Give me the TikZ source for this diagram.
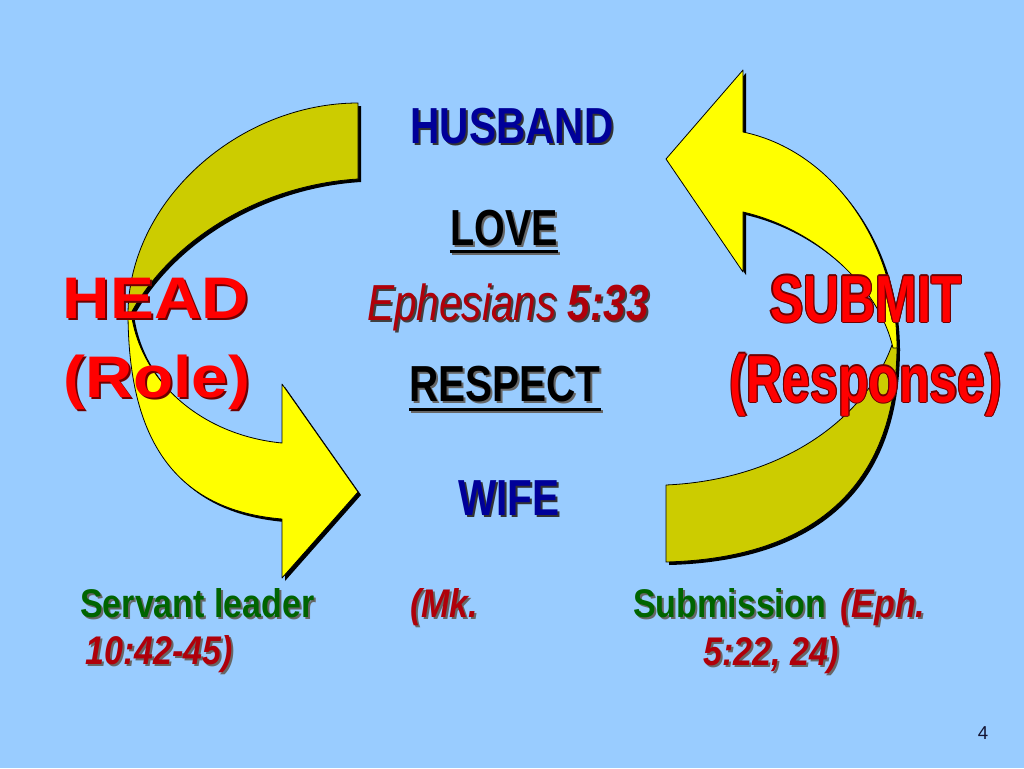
\documentclass[tikz,border=0pt]{standalone}
\usepackage{fontspec}
\setmainfont{Liberation Sans}
\newfontfamily\narrowfont[FakeStretch=0.8]{Liberation Sans}
\newfontfamily\subfont[FakeStretch=0.75]{Liberation Sans}
\newfontfamily\botfont[FakeStretch=0.85]{Liberation Sans}
\newfontfamily\headfont[FakeStretch=1.12]{Liberation Sans}
\definecolor{bgblue}{RGB}{153,204,255}
\definecolor{brighty}{RGB}{255,255,0}
\definecolor{olivey}{RGB}{204,204,0}
\definecolor{hblue}{RGB}{0,0,153}
\definecolor{vred}{RGB}{175,0,10}
\definecolor{hred}{RGB}{255,0,0}
\definecolor{outred}{RGB}{110,0,0}
\definecolor{dgreen}{RGB}{0,100,0}
\definecolor{pagenum}{RGB}{20,20,50}
\newcommand\shd[2]{\makebox[0pt][l]{\hspace{1.5pt}\raisebox{-1.5pt}{\color{#1}#2}}#2}
% eight copies of a text round a ring: colour, radius, diagonal offset, text
\newcommand\ring[4]{%
\makebox[0pt][l]{\color{#1}\hspace{#2}#4}%
\makebox[0pt][l]{\color{#1}\hspace{-#2}#4}%
\makebox[0pt][l]{\color{#1}\raisebox{#2}{#4}}%
\makebox[0pt][l]{\color{#1}\raisebox{-#2}{#4}}%
\makebox[0pt][l]{\color{#1}\hspace{#3}\raisebox{#3}{#4}}%
\makebox[0pt][l]{\color{#1}\hspace{-#3}\raisebox{#3}{#4}}%
\makebox[0pt][l]{\color{#1}\hspace{#3}\raisebox{-#3}{#4}}%
\makebox[0pt][l]{\color{#1}\hspace{-#3}\raisebox{-#3}{#4}}}
\newcommand\outn[1]{\ring{outred}{0.9pt}{0.65pt}{#1}#1}
\tikzset{
  backband/.style={fill=olivey, draw=black, line width=0.6pt, line join=round},
  frontband/.style={fill=brighty, draw=black, line width=0.6pt, line join=round},
  bandshadow/.style={fill=black, shift={(3,3)}},
  txt/.style={inner sep=0pt, anchor=base},
  txtl/.style={inner sep=0pt, anchor=base west},
  bigword/.style={txt, font=\narrowfont\bfseries\fontsize{38}{40}\selectfont},
  headword/.style={txt, text=hred, font=\headfont\bfseries\fontsize{44}{46}\selectfont},
  botword/.style={txtl, font=\botfont\bfseries\fontsize{30}{32}\selectfont},
  botref/.style={txtl, text=vred, font=\botfont\bfseries\itshape\fontsize{30}{32}\selectfont},
  uline/.style={line width=2.2pt, line cap=butt}
}
\def\LB{(358,103) .. controls (240,103) and (128,200) .. (128,315) -- (130,315) .. controls (170,240) and (260,185) .. (358,179) -- cycle}
\def\LF{(128,312) .. controls (128,440) and (175,510) .. (282,519) -- (282,578) -- (358,492) -- (282,384) -- (282,443) .. controls (200,435) and (140,380) .. (131,312) -- cycle}
\def\RB{(897,345) .. controls (897,480) and (820,558) .. (666,562) -- (666,485) .. controls (780,480) and (865,420) .. (892,345) -- cycle}
\def\RF{(743,132) .. controls (830,150) and (897,240) .. (897,348) -- (893,348) .. controls (880,290) and (820,230) .. (743,212) -- (743,272) -- (666,159) -- (743,70) -- cycle}
\begin{document}
\begin{tikzpicture}[x=0.75pt,y=-0.75pt]
\path[use as bounding box, fill=bgblue] (0,0) rectangle (1024,768);
% arrow shadows
\fill[bandshadow] \LB;
\fill[bandshadow] \LF;
\fill[bandshadow] \RB;
\fill[bandshadow] \RF;
% arrows
\path[backband] \LB;
\path[frontband] \LF;
\path[backband] \RB;
\path[frontband] \RF;
% centre texts
\node[bigword, text=hblue] (husband) at (512,143) {\shd{black!80}{HUSBAND}};
\node[bigword, text=black, font=\narrowfont\bfseries\fontsize{38}{40}\selectfont\addfontfeature{FakeStretch=0.78}] (love) at (504,245) {\shd{black!60}{LOVE}};
\node[txt, text=vred, font=\narrowfont\fontsize{38}{40}\selectfont] (eph) at (508,320) {\shd{black!75}{\itshape Ephesians \bfseries 5:33}};
\node[bigword, text=black] (respect) at (505,401) {\shd{black!60}{RESPECT}};
\node[bigword, text=hblue] (wife) at (509,515) {\shd{black!80}{WIFE}};
\draw[uline, black!60] ([xshift=1.5pt,yshift=-6.6pt]love.base west) -- ([xshift=1.5pt,yshift=-6.6pt]love.base east);
\draw[uline] ([yshift=-5.2pt]love.base west) -- ([yshift=-5.2pt]love.base east);
\draw[uline, black!60] ([xshift=1.5pt,yshift=-7.6pt]respect.base west) -- ([xshift=1.5pt,yshift=-7.6pt]respect.base east);
\draw[uline] ([yshift=-6.2pt]respect.base west) -- ([yshift=-6.2pt]respect.base east);
% side labels
\node[headword] (head) at (156,318) {\shd{outred}{HEAD}};
\node[headword] (role) at (157,397) {\shd{outred}{(Role)}};
\node[txt, text=hred, font=\subfont\bfseries\fontsize{50}{52}\selectfont] (submit) at (866,322) {\outn{SUBMIT}};
\node[txt, text=hred, font=\subfont\bfseries\fontsize{50}{52}\selectfont] (response) at (866,402) {\outn{(Response)}};
% bottom texts
\node[botword, text=dgreen] (servant) at (80,617) {\shd{black!60}{Servant leader}};
\node[botref] (mk) at (410,617) {\shd{black!60}{(Mk.}};
\node[botref] (mkref) at (85,664) {\shd{black!60}{10:42-45)}};
\node[botword, text=dgreen] (submission) at (633,617) {\shd{black!60}{Submission}};
\node[botref] (ephb) at (840,617) {\shd{black!60}{(Eph.}};
\node[botref] (ephref) at (703,665) {\shd{black!60}{5:22, 24)}};
\node[txt, text=pagenum, font=\fontsize{14}{16}\selectfont] (page) at (983,739) {4};
\end{tikzpicture}
\end{document}
